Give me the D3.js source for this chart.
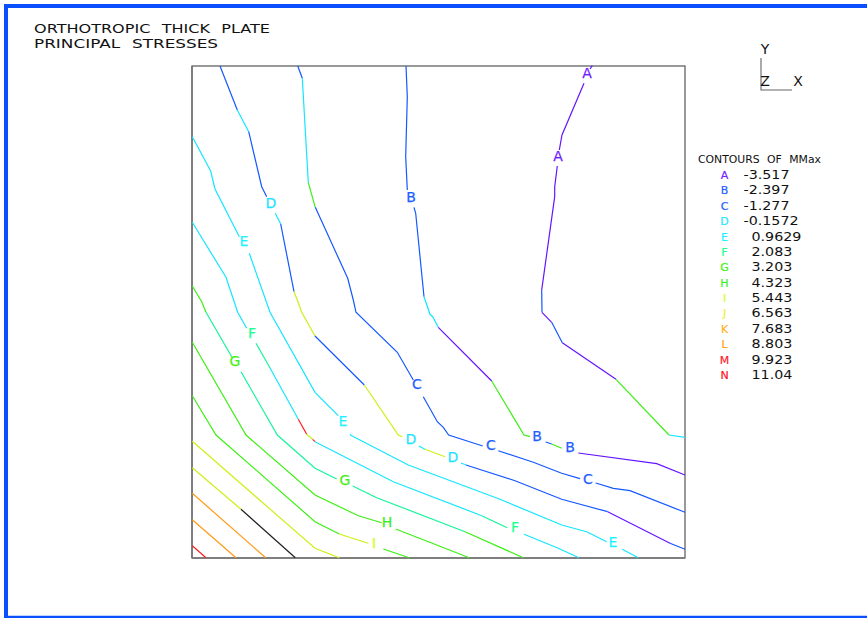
<!DOCTYPE html>
<html>
<head>
<meta charset="utf-8">
<script src="https://cdn.jsdelivr.net/npm/d3@7"></script>
<style>html,body{margin:0;padding:0;background:#fff;overflow:hidden}svg{display:block}text{font-family:"DejaVu Sans",sans-serif}</style>
</head>
<body>
<svg id="c" width="867" height="618"></svg>
<script>
const titleLines = ["ORTHOTROPIC THICK PLATE", "PRINCIPAL STRESSES"];
const legendTitle = "CONTOURS OF MMax";
const levelLetters = ["A","B","C","D","E","F","G","H","I","J","K","L","M","N"];
const levelValues = ["-3.517","-2.397","-1.277","-0.1572","0.9629","2.083","3.203","4.323","5.443","6.563","7.683","8.803","9.923","11.04"];
const axisNames = ["Y","Z","X"];
// each run: [band letter, points in plate units]
const contourA = [
 ["A",[[400.3,492.3],[398,489]]],
 ["A",[[392,474.7],[370,423],[367.3,408]]],
 ["A",[[365.3,392],[362.7,371.3],[362.7,361.3],[349.7,268]]],
 ["B",[[349.7,268],[350,245.7]]],
 ["A",[[350,245.7],[359.7,235.7]]],
 ["B",[[359.7,235.7],[370.3,215.3]]],
 ["A",[[370.3,215.3],[424,178.7]]],
 ["G",[[424,178.7],[477,123]]],
 ["D",[[477,123],[493,120.7]]]
];
const contourB = [
 ["B",[[214,492],[215.3,461.3],[213.7,401.3],[215.3,368]]],
 ["B",[[222,350.7],[223.7,344.7],[232,261.3]]],
 ["D",[[232,261.3],[238,243.7],[240.7,241.3],[246.3,230.7]]],
 ["A",[[246.3,230.7],[299.7,177]]],
 ["G",[[299.7,177],[332,123],[338,121.3]]],
 ["B",[[353.7,116],[359.7,114]]],
 ["G",[[359.7,114],[369.7,109.7]]],
 ["A",[[386.3,105],[464.7,94.3],[493,83]]]
];
const contourC = [
 ["B",[[105.7,492],[110.3,479.7]]],
 ["D",[[110.3,479.7],[116.3,375.3]]],
 ["G",[[116.3,375.3],[123.3,350.7]]],
 ["B",[[123.3,350.7],[155.7,279.7],[161.3,258],[164,245.7],[205.3,205.7],[221.3,178]]],
 ["B",[[231.3,161.3],[245.3,136.3],[251.3,130.7],[256.7,123],[290.7,112]]],
 ["B",[[306.3,107.3],[341.3,95.7],[369.7,84.7],[388,79.3]]],
 ["B",[[403.7,75],[421.3,69.7],[438,67.3],[493,45.7]]]
];
const contourD = [
 ["B",[[28,492],[45.3,448]]],
 ["D",[[45.3,448],[56.7,426.3]]],
 ["B",[[56.7,426.3],[69.7,371.3],[74.7,361.3]]],
 ["D",[[83.3,344.7],[88.7,334]]],
 ["B",[[88.7,334],[102,266.3]]],
 ["I",[[102,266.3],[105.3,258],[109.7,245.7],[123,222]]],
 ["B",[[123,222],[172.3,173]]],
 ["I",[[172.3,173],[206.3,123],[210.3,121.3]]],
 ["D",[[226.7,112],[233,108.7]]],
 ["I",[[233,108.7],[253,101.3]]],
 ["D",[[269,95],[274,93]]],
 ["B",[[274,93],[323,77.3],[369.7,58.7],[415.7,46.3]]],
 ["A",[[415.7,46.3],[478,14.7]]],
 ["B",[[478,14.7],[493,8.7]]]
];
const contourE = [
 ["D",[[0.3,421.3],[18.7,387],[23,369],[47.3,321.3]]],
 ["D",[[57.3,304.7],[78,245.7],[123,165.7],[146.3,142.3]]],
 ["D",[[158,123.7],[159.7,122.3],[216.3,93],[307.3,59],[369.7,33],[394.7,26.3],[414.7,16.3]]],
 ["D",[[430.3,8.7],[446.3,0.3]]]
];
const contourF = [
 ["D",[[0.3,335.7],[34,280.7],[45.7,245.7],[54.7,229.7]]],
 ["F",[[64,214.7],[78,190]]],
 ["D",[[78,190],[106.3,138.7]]],
 ["M",[[106.3,138.7],[114.7,123.7]]],
 ["I",[[114.7,123.7],[120.7,118.7]]],
 ["M",[[120.7,118.7],[123,116.3]]],
 ["D",[[123,116.3],[201.3,76.3],[289.7,42.3]]],
 ["F",[[289.7,42.3],[315.3,30.3]]],
 ["D",[[332,23.7],[366.3,9.7],[387,0.3]]]
];
const contourG = [
 ["G",[[0.3,272],[9.7,256.3],[14,245.7]]],
 ["F",[[14,245.7],[39.7,201.3]]],
 ["F",[[49,186.3],[85.3,123],[123,89.7],[144.7,79]]],
 ["F",[[160.7,72],[184.7,60.3],[273,26.3]]],
 ["G",[[273,26.3],[331.3,0.3]]]
];
const contourH = [
 ["G",[[0.3,215.7],[54,123],[123,63],[166.3,42.3],[189.7,35.3]]],
 ["G",[[203.7,29],[277.3,0.3]]]
];
const contourI = [
 ["G",[[0.3,162.3],[24,123],[123,36.3],[147.3,24]]],
 ["I",[[147.3,24],[176.3,14.7]]],
 ["G",[[191.3,9],[217.3,0.3]]]
];
const contourJ = [["I",[[0.3,116.7],[123,9.7],[147.3,0.3]]]];
const contourK = [["I",[[0.3,90.3],[49,48.7]]],["Z",[[49,48.7],[103.3,0.3]]]];
const contourL = [["K",[[0.3,64.7],[73.7,0.3]]]];
const contourM = [["K",[[0.3,38.3],[44,0.3]]]];
const contourN = [["M",[[0.3,12.3],[14,0.3]]]];
const allContours = [contourA,contourB,contourC,contourD,contourE,contourF,contourG,contourH,contourI,contourJ,contourK,contourL,contourM,contourN];
// labels on the contours: letter, plate x, plate y
const contourLabels = [
 ["A",395,485],["A",366,402],["B",219,361],["D",79,355],["E",52,317],["F",60,225],["G",43,197],
 ["C",225,174],["E",151,137],["D",219,119],["D",261,101],["C",299,113],["B",345,122],["B",378,111],
 ["C",396,79],["G",153,78],["H",195,36],["I",182,15],["F",323,31],["E",421,16]
];

const bandColor = {A:"#6414ff",B:"#1458ff",D:"#14e6ff",F:"#14f59a",G:"#3cf014",I:"#cdf014",K:"#ff9a14",M:"#ff1e1e",Z:"#222222"};
const letterColor = {A:"#7020ff",B:"#1e60ff",C:"#1e60ff",D:"#1ee4ff",E:"#1ef4ff",F:"#1eff90",G:"#46f014",H:"#36f024",I:"#d0ff10",J:"#f0f030",K:"#ffb020",L:"#ffa020",M:"#ff2030",N:"#ff1020"};

const svg = d3.select("#c");
const x = d3.scaleLinear().domain([0,493]).range([192,685]);
const y = d3.scaleLinear().domain([0,492]).range([558,66]);
const line = d3.line().x(d=>x(d[0])).y(d=>y(d[1]));

// stretch a text's glyphs horizontally by a factor, keeping it as real text
function widen(sel, k){
  sel.each(function(){
    const w = this.getComputedTextLength();
    d3.select(this).attr("textLength", w*k).attr("lengthAdjust","spacingAndGlyphs");
  });
}

// outer border
svg.append("path").attr("d","M6,618V6H867").attr("fill","none").attr("stroke","#0a50ff").attr("stroke-width",4);
svg.append("path").attr("d","M6,617H867").attr("fill","none").attr("stroke","#0a50ff").attr("stroke-width",2.4);

// title
svg.selectAll("text.t").data(titleLines).join("text").attr("class","t")
 .attr("x",34).attr("y",(d,i)=>33+i*15).attr("font-size",13).attr("word-spacing",5).attr("fill","#111")
 .attr("textLength",(d,i)=>i?184:236).attr("lengthAdjust","spacingAndGlyphs").text(d=>d);

// frame
svg.append("rect").attr("x",x(0)).attr("y",y(492)).attr("width",x(493)-x(0)).attr("height",y(0)-y(492))
 .attr("fill","none").attr("stroke","#555").attr("stroke-width",1.2);
svg.append("line").attr("x1",x(0)).attr("x2",x(0)).attr("y1",y(492)).attr("y2",y(0)).attr("stroke","#777").attr("stroke-width",1.6);
svg.append("line").attr("x1",x(0)).attr("x2",x(493)).attr("y1",y(0)).attr("y2",y(0)).attr("stroke","#777").attr("stroke-width",1.6);

// contours
const runs = allContours.flat();
svg.append("g").selectAll("path").data(runs).join("path")
 .attr("d",d=>line(d[1])).attr("fill","none").attr("stroke",d=>bandColor[d[0]]).attr("stroke-width",1.2);

// contour labels
svg.append("g").selectAll("text").data(contourLabels).join("text")
 .attr("x",d=>x(d[1])).attr("y",d=>y(d[2])+4.8).attr("text-anchor","middle").attr("font-size",14)
 .attr("fill",d=>letterColor[d[0]]).attr("stroke",d=>letterColor[d[0]]).attr("stroke-width",0.25).text(d=>d[0]);

// axis triad
svg.append("path").attr("d","M761,58V90H792").attr("fill","none").attr("stroke","#666").attr("stroke-width",1.1);
svg.selectAll("text.a").data(axisNames).join("text").attr("class","a")
 .attr("x",(d,i)=>[765,765,798][i]).attr("y",(d,i)=>[54,86,86][i]).attr("text-anchor","middle")
 .attr("font-size",14).attr("fill","#111").text(d=>d);

// legend
svg.append("text").attr("x",698).attr("y",163).attr("font-size",11).attr("word-spacing",4).attr("fill","#111")
 .attr("textLength",123).attr("lengthAdjust","spacingAndGlyphs").text(legendTitle);
const rowY = d3.scaleLinear().domain([0,13]).range([179,379]);
const rows = svg.append("g").selectAll("g").data(levelLetters).join("g");
rows.append("text").attr("x",724.5).attr("y",(d,i)=>rowY(i)).attr("text-anchor","middle").attr("font-size",11)
 .attr("fill",d=>letterColor[d]).attr("stroke",d=>letterColor[d]).attr("stroke-width",0.2).text(d=>d);
rows.append("text").attr("x",(d,i)=>levelValues[i][0]==="-"?743.5:751.5).attr("y",(d,i)=>rowY(i))
 .attr("font-size",11.5).attr("fill","#111").text((d,i)=>levelValues[i]).call(widen,1.24);
</script>
</body>
</html>
